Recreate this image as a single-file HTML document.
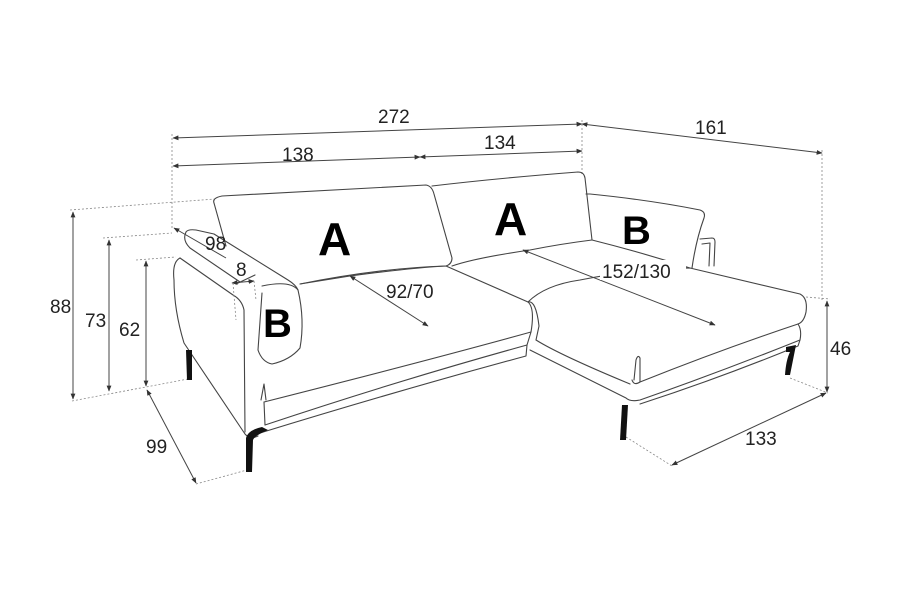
<!DOCTYPE html>
<html><head><meta charset="utf-8"><style>
html,body{margin:0;padding:0;background:#fff;}
svg{display:block;}
text{font-family:"Liberation Sans",sans-serif;fill:#222;}
.l{fill:none;stroke:#444;stroke-width:1.1;stroke-linejoin:round;stroke-linecap:round;}
.d{fill:none;stroke:#888;stroke-width:0.8;stroke-dasharray:2 2;}
.a{fill:none;stroke:#444;stroke-width:1;}
.n{font-size:19px;}
.big{font-size:46px;font-weight:bold;fill:#000;}
.leg{fill:#111;stroke:none;}
</style></head><body>
<svg width="900" height="600" viewBox="0 0 900 600" xmlns="http://www.w3.org/2000/svg">
<defs>
<marker id="ar" viewBox="0 0 10 10" refX="9" refY="5" markerWidth="6" markerHeight="6" orient="auto-start-reverse"><path d="M0,1 L10,5 L0,9 z" fill="#333"/></marker>
</defs>
<rect width="900" height="600" fill="#fff"/>

<!-- top dimensions -->
<line class="a" x1="173" y1="138" x2="582" y2="124" marker-start="url(#ar)" marker-end="url(#ar)"/>
<line class="a" x1="173" y1="166" x2="420" y2="157" marker-start="url(#ar)" marker-end="url(#ar)"/>
<line class="a" x1="420" y1="157" x2="582" y2="151" marker-start="url(#ar)" marker-end="url(#ar)"/>
<line class="a" x1="582" y1="124" x2="822" y2="153" marker-start="url(#ar)" marker-end="url(#ar)"/>
<text class="n" x="378" y="123">272</text>
<text class="n" x="282" y="161">138</text>
<text class="n" x="484" y="149">134</text>
<text class="n" x="695" y="134">161</text>
<line class="d" x1="172" y1="134" x2="172" y2="230"/>
<line class="d" x1="582" y1="120" x2="582" y2="175"/>
<line class="d" x1="822" y1="150" x2="822" y2="300"/>

<!-- left dims -->
<line class="a" x1="73" y1="212" x2="73" y2="399" marker-start="url(#ar)" marker-end="url(#ar)"/>
<line class="a" x1="109" y1="240" x2="109" y2="391" marker-start="url(#ar)" marker-end="url(#ar)"/>
<line class="a" x1="146" y1="261" x2="146" y2="386" marker-start="url(#ar)" marker-end="url(#ar)"/>
<line class="d" x1="70" y1="210" x2="215" y2="199"/>
<line class="d" x1="103" y1="238" x2="172" y2="233"/>
<line class="d" x1="136" y1="260" x2="176" y2="257"/>
<line class="d" x1="72" y1="401" x2="188" y2="379"/>
<text class="n" x="50" y="313">88</text>
<text class="n" x="85" y="327">73</text>
<text class="n" x="119" y="336">62</text>
<line class="a" x1="147" y1="390" x2="196" y2="483" marker-start="url(#ar)" marker-end="url(#ar)"/>
<line class="d" x1="196" y1="484" x2="247" y2="470"/>
<text class="n" x="146" y="453">99</text>

<!-- right dims -->
<line class="a" x1="827" y1="301" x2="827" y2="392" marker-start="url(#ar)" marker-end="url(#ar)"/>
<line class="d" x1="806" y1="297" x2="830" y2="299"/>
<line class="d" x1="790" y1="378" x2="828" y2="393"/>
<text class="n" x="830" y="355">46</text>
<line class="a" x1="672" y1="465" x2="826" y2="393" marker-start="url(#ar)" marker-end="url(#ar)"/>
<line class="d" x1="626" y1="437" x2="672" y2="466"/>
<text class="n" x="745" y="445">133</text>

<!-- left back cushion -->
<path class="l" d="M214,203 Q212,198 222,196 L426,185 Q432,186 434,194 L452,258 Q452,264 446,266 Q380,268 300,284"/>
<path class="l" d="M214,203 L226,246"/>
<!-- middle back cushion -->
<path class="l" d="M432,186 Q500,178 578,172 Q584,172 585,178 L592,240 Q560,244 530,250 Q475,258 452,266"/>
<!-- right back cushion B -->
<path class="l" d="M586,194 L590,194 Q650,200 700,210 Q706,212 704,218 Q696,240 692,268"/>
<path class="l" d="M592,240 Q640,252 690,268"/>
<path class="l" d="M700,239 L712,238 Q715,238 715,242 L714,266"/>
<path class="l" d="M702,244 L710,243 L709,266"/>

<!-- left arm -->
<path class="l" d="M186,232 Q188,229 196,230 L214,234 L288,280 Q296,285 298,290"/>
<path class="l" d="M186,232 Q182,240 190,248 L240,282"/>
<path class="l" d="M180,258 Q172,262 174,280 Q174,310 184,343 L245,434 Q250,440 258,436"/>
<path class="l" d="M180,258 L233,295 Q242,300 244,310 L245,432"/>
<path class="l" d="M236,284 L255,275"/>
<!-- left B cushion -->
<path class="l" d="M262,286 Q290,280 298,290 Q305,320 300,348 Q290,360 272,364 Q262,362 258,350"/>
<path class="l" d="M258,350 L262,293"/>
<!-- left seat -->
<path class="l" d="M300,284 L350,276 Q410,268 446,266 L528,302 Q535,308 531,332 Q430,360 264,402"/>
<path class="l" d="M264,402 L265,425"/>
<path class="l" d="M261,400 L264,384 L266,400"/>
<path class="l" d="M531,332 L527,345 Q400,380 265,425"/>
<path class="l" d="M527,345 L526,356 Q400,390 260,433"/>
<!-- left legs -->
<path class="leg" d="M186,350 L192,350 L192,380 L187,380 z"/>
<path class="leg" d="M246,438 Q248,430 262,427 L268,430 Q254,436 253,440 L252,472 L246,472 z"/>

<!-- chaise seat -->
<path class="l" d="M528,302 Q545,285 580,280 Q640,268 690,268 L800,294 Q808,298 806,312 Q804,322 798,324 Q720,350 640,382 Q634,386 632,380"/>
<path class="l" d="M634,380 L636,360 Q638,354 640,358 L640,382"/>
<path class="l" d="M528,302 Q536,300 539,326 L536,340"/>
<path class="l" d="M536,340 Q560,355 630,384"/>
<path class="l" d="M798,324 Q802,330 800,340 Q720,372 640,400 Q630,402 626,398 L530,350"/>
<path class="l" d="M800,340 L798,346 Q720,378 640,404"/>
<!-- chaise legs -->
<path class="leg" d="M622,405 L628,405 L626,440 L620,440 z"/>
<path class="leg" d="M786,347 L796,345 L790,375 L785,375 Q786,360 790,352 L786,352 z"/>

<!-- depth arrows -->
<line class="a" x1="350" y1="276" x2="428" y2="326" marker-start="url(#ar)" marker-end="url(#ar)"/>
<text class="n" x="386" y="298">92/70</text>
<line class="a" x1="523" y1="250" x2="715" y2="325" marker-start="url(#ar)" marker-end="url(#ar)"/>
<rect x="600" y="260" width="86" height="20" fill="#fff"/>
<text class="n" x="602" y="278">152/130</text>
<line class="a" x1="174" y1="228" x2="226" y2="258" marker-start="url(#ar)"/>
<text class="n" x="205" y="250">98</text>
<line class="a" x1="232" y1="283" x2="254" y2="281" marker-start="url(#ar)" marker-end="url(#ar)"/>
<line class="d" x1="233" y1="283" x2="236" y2="320"/>
<line class="d" x1="254" y1="281" x2="256" y2="300"/>
<text class="n" x="236" y="276">8</text>

<!-- letters -->
<text class="big" x="318" y="255">A</text>
<text class="big" x="494" y="235">A</text>
<text class="big" x="622" y="244" style="font-size:40px">B</text>
<text class="big" x="263" y="337" style="font-size:40px">B</text>
</svg>
</body></html>
